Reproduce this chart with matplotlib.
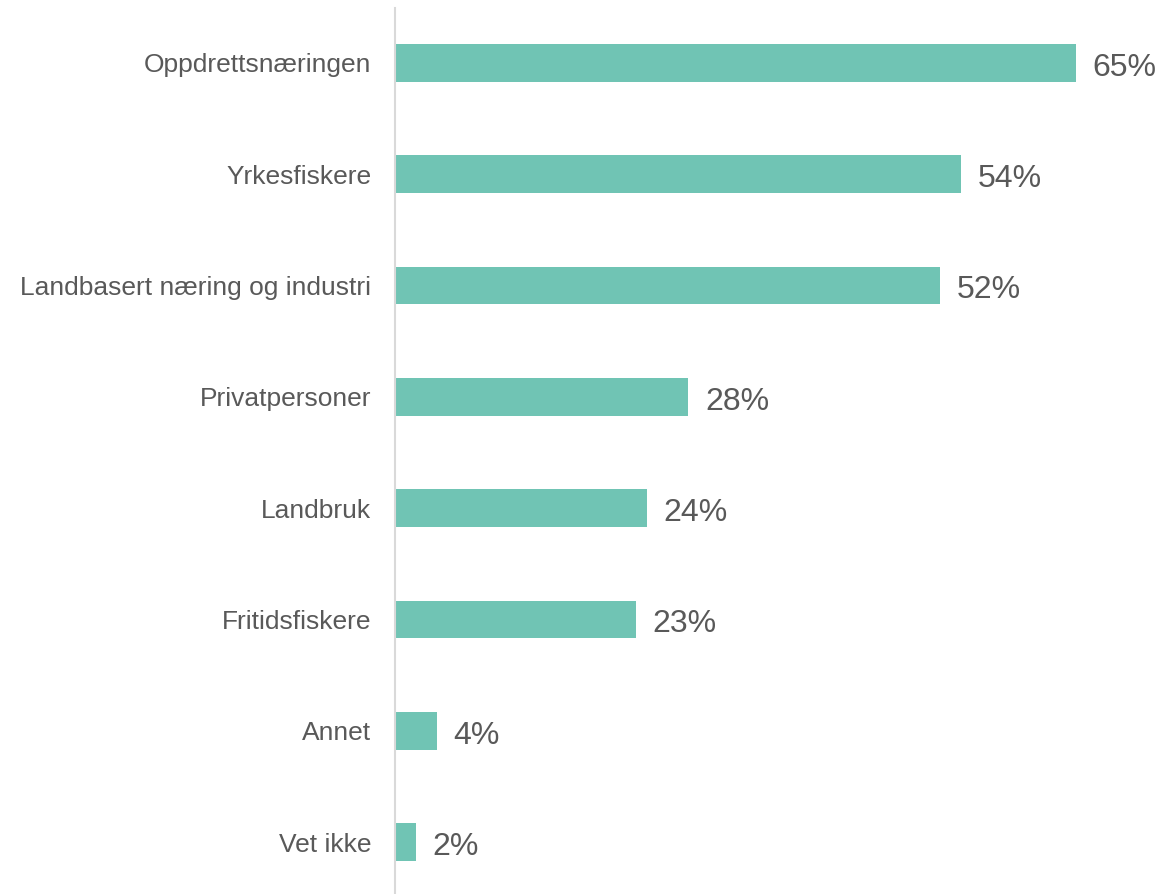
import matplotlib
matplotlib.use("Agg")
import matplotlib.pyplot as plt

categories = ["Oppdrettsnæringen", "Yrkesfiskere", "Landbasert næring og industri",
              "Privatpersoner", "Landbruk", "Fritidsfiskere", "Annet", "Vet ikke"]
values = [65, 54, 52, 28, 24, 23, 4, 2]

plt.rcParams['font.family'] = ['Liberation Sans', 'DejaVu Sans']

W, H = 1164, 894
fig = plt.figure(figsize=(W / 100, H / 100), dpi=100)
ax_left = 395 / W
ax_bottom = 0.0
ax_top = 8 / H
ax = fig.add_axes([ax_left, ax_bottom, 1 - ax_left, 1 - ax_top - ax_bottom])

pos = list(range(len(categories)))
ax.barh(pos, values, height=0.34, color="#70C4B4", zorder=2)
ax.set_yticks(pos)
ax.set_yticklabels(categories, fontsize=19, color="#595959")
ax.tick_params(axis='y', length=0, pad=17)
ax.set_xticks([])
ax.set_xlim(0, (W - 395) / 10.48)
ax.set_ylim(7.467, -0.494)

for s in ["top", "right", "bottom"]:
    ax.spines[s].set_visible(False)
ax.spines["left"].set_color("#D9D9D9")
ax.spines["left"].set_linewidth(1.5)

for p, v in zip(pos, values):
    ax.annotate(f"{v}%", xy=(v, p), xytext=(12, -1), textcoords="offset points",
                va="center_baseline", ha="left", fontsize=23, color="#595959")

fig.savefig("out.png", dpi=100)
